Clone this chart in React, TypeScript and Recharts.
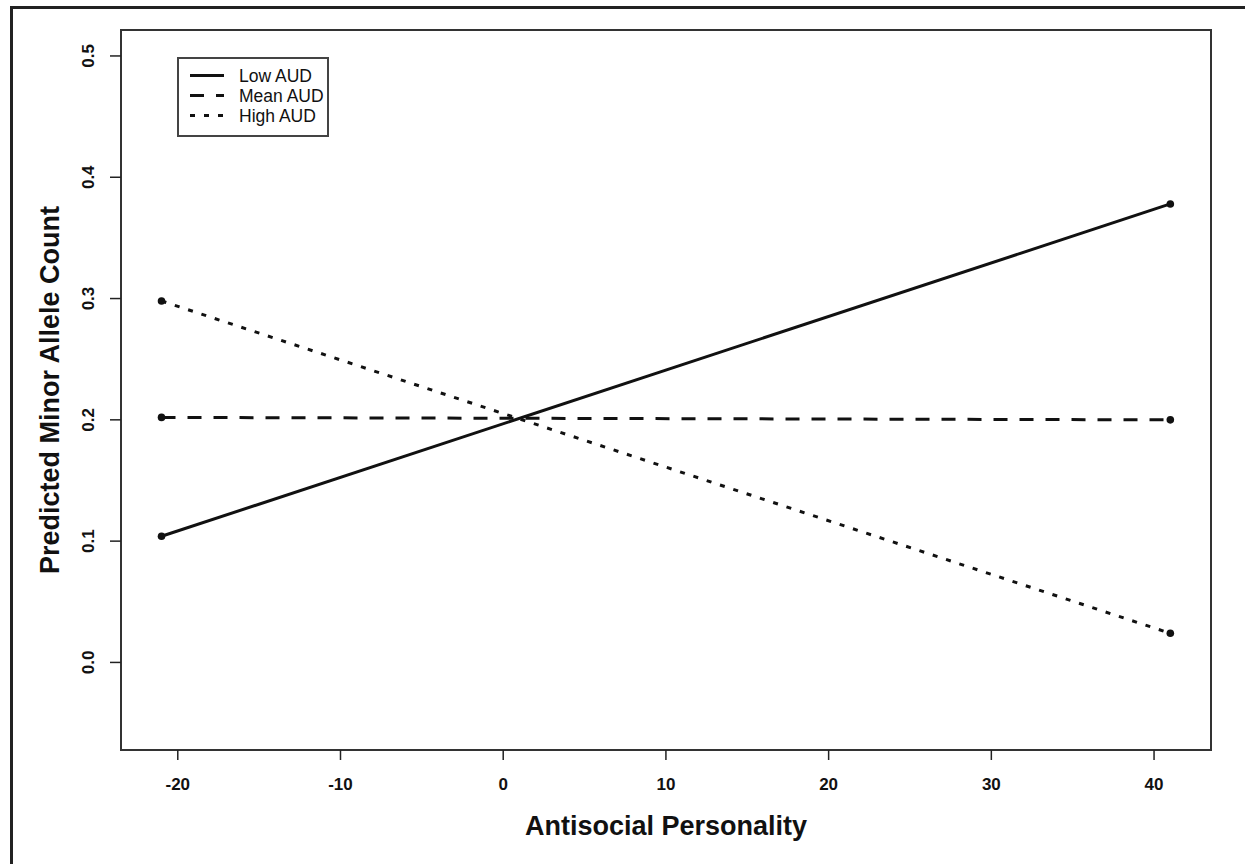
import React from "react";
import { LineChart, Line, XAxis, YAxis, ReferenceArea, Legend } from "recharts";

const xValues = [-21, 41];
const lowAUD = [0.104, 0.378];
const meanAUD = [0.202, 0.2];
const highAUD = [0.298, 0.024];
const seriesNames = ["Low AUD", "Mean AUD", "High AUD"];
const xTicks = [-20, -10, 0, 10, 20, 30, 40];
const yTicks = [0, 0.1, 0.2, 0.3, 0.4, 0.5];

const X_DOMAIN: [number, number] = [-23.49, 43.5];
const Y_DOMAIN: [number, number] = [-0.0722, 0.5214];

const FONT = "'Liberation Sans', Arial, Helvetica, sans-serif";
const INK = "#111";

const toSeries = (vals: number[]) => xValues.map((x, i) => ({ x, y: vals[i] }));

const dashes = ["", "14 12", "5 9"];

const XTick = (props: any) => {
  const { x, y, payload } = props;
  return (
    <text x={x} y={y + 28} textAnchor="middle" fontFamily={FONT} fontWeight="bold" fontSize={17} fill={INK}>
      {payload.value}
    </text>
  );
};

const YTick = (props: any) => {
  const { x, y, payload } = props;
  const bx = x - 13.5;
  return (
    <text
      x={bx}
      y={y}
      transform={`rotate(-90 ${bx} ${y})`}
      textAnchor="middle"
      fontFamily={FONT}
      fontWeight="bold"
      fontSize={17}
      fill={INK}
    >
      {Number(payload.value).toFixed(1)}
    </text>
  );
};

const makeDot = (p: any) => (
  <circle key={`d-${p.index}-${p.cx}-${p.cy}`} cx={p.cx} cy={p.cy} r={3.8} fill={INK} />
);

const LegendBox = () => (
  <svg width={152} height={80} style={{ display: "block" }}>
    <rect x={1} y={1} width={150} height={78} fill="#fff" stroke="#444" strokeWidth={2} />
    {seriesNames.map((name, i) => {
      const cy = 18.5 + i * 20;
      return (
        <g key={name}>
          <line x1={13} x2={47} y1={cy} y2={cy} stroke={INK} strokeWidth={3} strokeDasharray={dashes[i] || undefined} />
          <text x={62} y={cy + 6.2} fontFamily={FONT} fontSize={17.5} fill={INK}>
            {name}
          </text>
        </g>
      );
    })}
  </svg>
);

export default function App() {
  const all = [lowAUD, meanAUD, highAUD];
  return (
    <div style={{ position: "fixed", left: 0, top: 0, width: 1245, height: 864, background: "#fff" }}>
      <LineChart width={1245} height={864} margin={{ top: 30, right: 34, left: 0, bottom: 0 }}>
        <XAxis
          type="number"
          dataKey="x"
          domain={X_DOMAIN}
          ticks={xTicks}
          interval={0}
          allowDataOverflow
          axisLine={false}
          tickLine={{ stroke: "#222", strokeWidth: 1.5 }}
          tickSize={10}
          height={114}
          tick={<XTick />}
          label={{
            content: (p: any) => {
              const vb = p.viewBox || {};
              return (
                <text
                  x={(vb.x ?? 121) + (vb.width ?? 1090) / 2}
                  y={835}
                  textAnchor="middle"
                  fontFamily={FONT}
                  fontWeight="bold"
                  fontSize={27}
                  fill={INK}
                >
                  Antisocial Personality
                </text>
              );
            },
          }}
        />
        <YAxis
          type="number"
          dataKey="y"
          domain={Y_DOMAIN}
          ticks={yTicks}
          interval={0}
          allowDataOverflow
          axisLine={false}
          tickLine={{ stroke: "#222", strokeWidth: 1.5 }}
          tickSize={11}
          width={121}
          tick={<YTick />}
          label={{
            content: (p: any) => {
              const vb = p.viewBox || {};
              const cy = (vb.y ?? 30) + (vb.height ?? 720) / 2;
              return (
                <text
                  x={59}
                  y={cy}
                  transform={`rotate(-90 59 ${cy})`}
                  textAnchor="middle"
                  fontFamily={FONT}
                  fontWeight="bold"
                  fontSize={27}
                  fill={INK}
                >
                  Predicted Minor Allele Count
                </text>
              );
            },
          }}
        />
        <ReferenceArea
          x1={X_DOMAIN[0]}
          x2={X_DOMAIN[1]}
          y1={Y_DOMAIN[0]}
          y2={Y_DOMAIN[1]}
          fill="none"
          fillOpacity={0}
          stroke="#333"
          strokeWidth={2}
          ifOverflow="visible"
        />
        <Legend
          layout="vertical"
          align="center"
          verticalAlign="middle"
          wrapperStyle={{ position: "absolute", left: 177, top: 57, width: 152, height: 80 }}
          content={() => <LegendBox />}
        />
        {all.map((vals, i) => (
          <Line
            key={seriesNames[i]}
            name={seriesNames[i]}
            data={toSeries(vals)}
            dataKey="y"
            type="linear"
            stroke={INK}
            strokeWidth={3}
            strokeDasharray={dashes[i] || undefined}
            dot={makeDot}
            activeDot={false}
            isAnimationActive={false}
          />
        ))}
      </LineChart>
      <div
        style={{
          position: "absolute",
          left: 9.5,
          top: 5.5,
          width: 1245,
          height: 864,
          borderLeft: "3px solid #222",
          borderTop: "3px solid #222",
          pointerEvents: "none",
        }}
      />
    </div>
  );
}
